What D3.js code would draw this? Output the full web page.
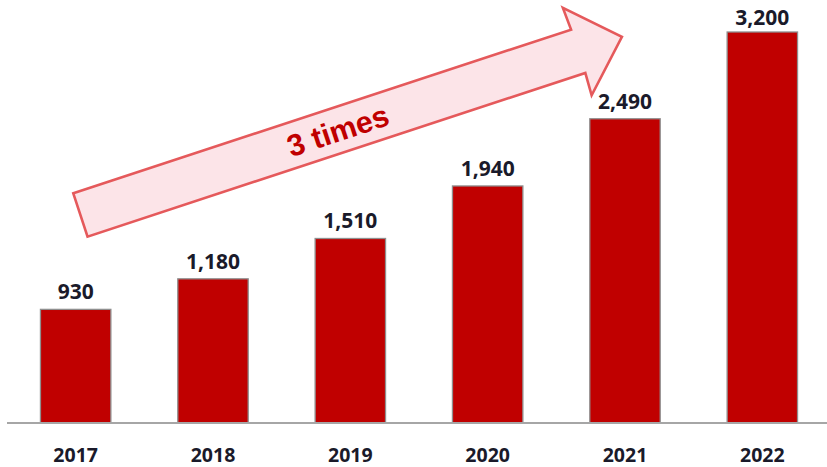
<!DOCTYPE html>
<html>
<head>
<meta charset="utf-8">
<script src="https://cdn.jsdelivr.net/npm/d3@7"></script>
<style>
  html, body { margin: 0; padding: 0; background: #ffffff; }
  svg { display: block; }
</style>
</head>
<body>
<svg id="chart" width="827" height="467"></svg>
<script>
// ---- data ----
const years = ["2017", "2018", "2019", "2020", "2021", "2022"];
const values = [930, 1180, 1510, 1940, 2490, 3200];
const annotationText = "3 times";

// ---- layout ----
const W = 827, H = 467;
const baseline = 423;
const svg = d3.select("#chart");

const x = d3.scaleBand()
  .domain(years)
  .range([7, 831])
  .paddingInner(0.48)
  .paddingOuter(0.24);

const y = d3.scaleLinear()
  .domain([0, 3200])
  .range([baseline, 32]);

const fmt = d3.format(",");
const data = years.map((yr, i) => ({ year: yr, value: values[i] }));

// bars
svg.append("g")
  .selectAll("rect")
  .data(data)
  .join("rect")
  .attr("x", d => x(d.year) + 0.5)
  .attr("y", d => y(d.value))
  .attr("width", x.bandwidth() - 1)
  .attr("height", d => baseline - y(d.value))
  .attr("fill", "#C00000")
  .attr("stroke", "#8f8f8f")
  .attr("stroke-width", 1.3);

// baseline axis
const xAxis = d3.axisBottom(x).tickSize(0).tickPadding(0);
const ax = svg.append("g")
  .attr("transform", `translate(0,${baseline})`)
  .call(xAxis);
ax.select(".domain")
  .attr("d", `M7,0H${W}`)
  .attr("stroke", "#a6a6a6")
  .attr("stroke-width", 2);
ax.selectAll(".tick text")
  .attr("y", 39)
  .attr("dy", 0)
  .attr("fill", "#1a1a2a")
  .style("font-family", "'Open Sans', sans-serif")
  .style("font-weight", "bold")
  .style("font-size", "19.5px");

// value labels
svg.append("g")
  .selectAll("text")
  .data(data)
  .join("text")
  .attr("x", d => x(d.year) + x.bandwidth() / 2)
  .attr("y", d => Math.max(y(d.value) - 10, 25))
  .attr("text-anchor", "middle")
  .attr("fill", "#1a1a2a")
  .style("font-family", "'Open Sans', sans-serif")
  .style("font-weight", "bold")
  .style("font-size", "21px")
  .text(d => fmt(d.value));

// annotation arrow (block arrow rotated)
const L = 524, T = 45.6, headLen = 46, headHalf = 46;
const arrowPts = [
  [0, 0], [L, 0], [L - 1, T / 2 - headHalf], [L + headLen, T / 2],
  [L - 1, T / 2 + headHalf], [L, T], [0, T]
];
const ag = svg.append("g")
  .attr("transform", "translate(73.3,193.3) rotate(-18.2)");
ag.append("path")
  .attr("d", d3.line()(arrowPts) + "Z")
  .attr("fill", "#FCE4E8")
  .attr("stroke", "#E5595B")
  .attr("stroke-width", 2.6)
  .attr("stroke-linejoin", "miter");
ag.append("text")
  .attr("x", 271)
  .attr("y", T / 2)
  .attr("dy", "0.36em")
  .attr("text-anchor", "middle")
  .attr("fill", "#C00000")
  .style("font-family", "'Liberation Sans', Arial, sans-serif")
  .style("font-weight", "bold")
  .style("font-size", "30.5px")
  .text(annotationText);
</script>
</body>
</html>
